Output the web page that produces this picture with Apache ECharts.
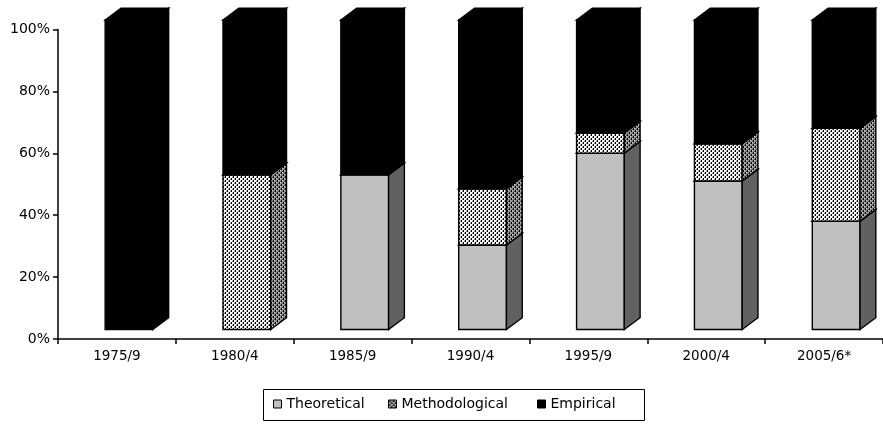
<!DOCTYPE html>
<html>
<head>
<meta charset="utf-8">
<script src="https://cdn.jsdelivr.net/npm/echarts@6/dist/echarts.min.js"></script>
<style>
html,body{margin:0;padding:0;background:#fff;}
#chart{width:883px;height:427px;}
</style>
</head>
<body>
<div id="chart"></div>
<script>
// ---- data ----
const categories = ['1975/9','1980/4','1985/9','1990/4','1995/9','2000/4','2005/6*'];
const theoretical = [0, 0, 50, 27.3, 57, 48, 35];
const methodological = [0, 50, 0, 18.2, 6.5, 12, 30];
const empirical = [100, 50, 50, 54.5, 36.5, 40, 35];
const seriesNames = ['Theoretical', 'Methodological', 'Empirical'];
const yTicks = [0, 20, 40, 60, 80, 100];

// ---- patterns ----
function makePattern(bg, dots) {
  const c = document.createElement('canvas');
  c.width = 4; c.height = 4;
  const g = c.getContext('2d');
  g.fillStyle = bg; g.fillRect(0, 0, 4, 4);
  dots.forEach(d => { g.fillStyle = d[2]; g.fillRect(d[0], d[1], 1, 1); });
  return { image: c, repeat: 'repeat' };
}
const methFront = makePattern('#ffffff', [
  [1,0,'#000'],[1,1,'#000'],[0,1,'#808080'],[2,2,'#c0c0c0'],
  [3,2,'#000'],[3,3,'#000'],[2,3,'#808080'],[0,0,'#c0c0c0']
]);
const methSide = makePattern('#909090', [
  [1,0,'#000'],[1,1,'#000'],[0,1,'#505050'],[2,0,'#d0d0d0'],
  [3,2,'#000'],[3,3,'#000'],[2,3,'#505050'],[0,2,'#d0d0d0']
]);

const styles = [
  { front: '#c0c0c0', side: '#616161', top: '#a0a0a0' },
  { front: methFront, side: methSide, top: methSide },
  { front: '#000000', side: '#000000', top: '#000000' }
];

const valuesList = [theoretical, methodological, empirical];
const bases = valuesList.map((arr, si) => arr.map((v, i) => {
  let b = 0; for (let k = 0; k < si; k++) b += valuesList[k][i]; return b;
}));

function makeRender(si) {
  return function (params, api) {
    const ci = api.value(0), base = api.value(1), val = api.value(2);
    if (!(val > 0)) return null;
    const bw = api.size([1, 0])[0];
    const pB = api.coord([ci, base]);
    const pT = api.coord([ci, base + val]);
    const shiftY = 9.5;
    const L = pB[0] - bw * 0.10;
    const R = L + bw * 0.405;
    const yb = pB[1] - shiftY, yt = pT[1] - shiftY;
    const dx = bw * 0.134, dy = -bw * 0.10;
    const st = styles[si];
    const lw = 1.4;
    return {
      type: 'group',
      children: [
        { type: 'polygon', shape: { points: [[L, yb], [R, yb], [R, yt], [L, yt]] },
          style: { fill: st.front, stroke: '#000', lineWidth: lw } },
        { type: 'polygon', shape: { points: [[R, yb], [R + dx, yb + dy], [R + dx, yt + dy], [R, yt]] },
          style: { fill: st.side, stroke: '#000', lineWidth: lw } },
        { type: 'polygon', shape: { points: [[L, yt], [L + dx, yt + dy], [R + dx, yt + dy], [R, yt]] },
          style: { fill: st.top, stroke: '#000', lineWidth: lw } }
      ]
    };
  };
}

const series = seriesNames.map((name, si) => ({
  name: name,
  type: 'custom',
  renderItem: makeRender(si),
  encode: { x: 0, y: 2 },
  itemStyle: { color: si === 1 ? methSide : styles[si].front },
  clip: false,
  data: valuesList[si].map((v, i) => [i, bases[si][i], v])
}));

const FONT = 'DejaVu Sans';
const legendIconColors = ['#c0c0c0', methSide, '#000'];
const legendLefts = [273, 388, 537];
const legends = seriesNames.map((name, i) => ({
  left: legendLefts[i],
  top: 397,
  padding: 0,
  itemWidth: 8,
  itemHeight: 8,
  textStyle: { color: '#000', fontFamily: FONT, fontSize: 14 },
  data: [{ name: name, icon: 'rect', itemStyle: { color: legendIconColors[i], borderColor: '#000', borderWidth: 1 } }]
}));

const chart = echarts.init(document.getElementById('chart'), null, { renderer: 'canvas' });
chart.setOption({
  animation: false,
  backgroundColor: '#ffffff',
  grid: { left: 58, top: 29.5, width: 834.4, height: 309.5 },
  xAxis: {
    type: 'category',
    data: categories,
    boundaryGap: true,
    axisLine: { show: true, lineStyle: { color: '#000', width: 1.5 } },
    axisTick: { show: true, length: 5, lineStyle: { color: '#000', width: 1.5 } },
    axisLabel: { color: '#000', fontFamily: FONT, fontSize: 13.5, margin: 10, interval: 0 },
    splitLine: { show: false }
  },
  yAxis: {
    type: 'value',
    min: yTicks[0],
    max: yTicks[yTicks.length - 1],
    interval: yTicks[1] - yTicks[0],
    axisLine: { show: true, lineStyle: { color: '#000', width: 1.5 } },
    axisTick: { show: true, length: 5, lineStyle: { color: '#000', width: 1.5 } },
    axisLabel: { color: '#000', fontFamily: FONT, fontSize: 14, margin: 8, formatter: '{value}%' },
    splitLine: { show: false }
  },
  legend: legends,
  graphic: [{
    type: 'rect',
    silent: true,
    shape: { x: 263.5, y: 389.5, width: 381, height: 31 },
    style: { fill: 'none', stroke: '#000', lineWidth: 1 }
  }],
  series: series
});
</script>
</body>
</html>
